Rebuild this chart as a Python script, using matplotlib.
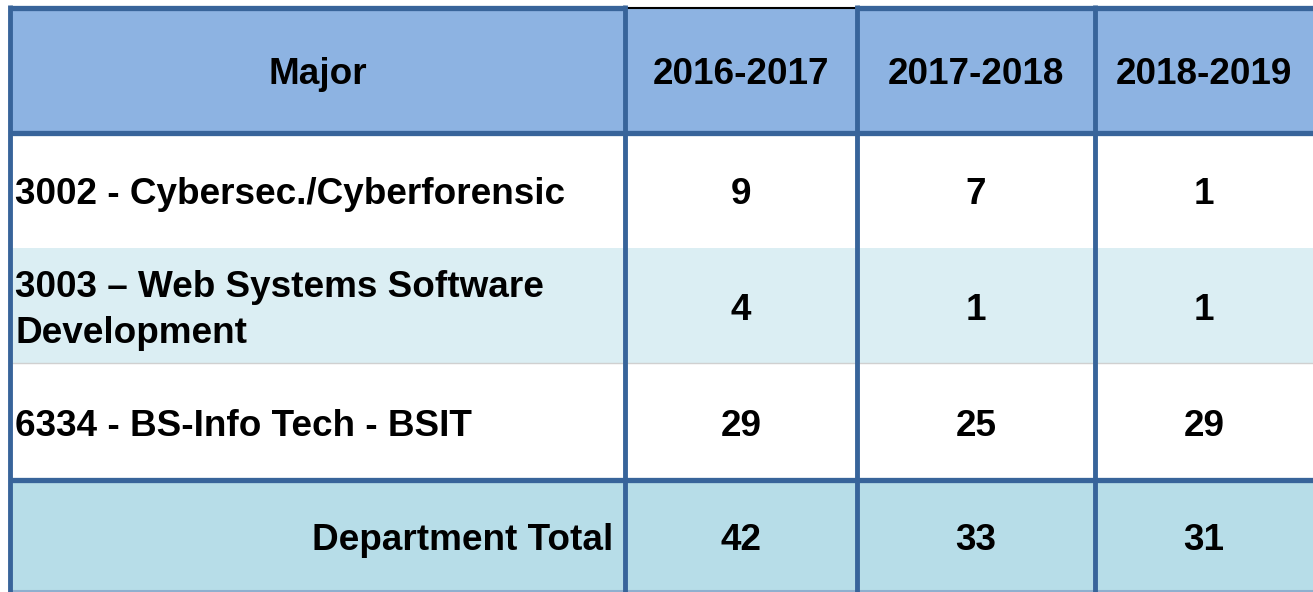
import matplotlib.pyplot as plt
from matplotlib.patches import Rectangle

# table content
header = ['Major', '2016-2017', '2017-2018', '2018-2019']
majors = ['3002 - Cybersec./Cyberforensic',
          '3003 \u2013 Web Systems Software\nDevelopment',
          '6334 - BS-Info Tech - BSIT']
y2016 = [9, 4, 29]
y2017 = [7, 1, 25]
y2018 = [1, 1, 29]
total_label = 'Department Total'
totals = [sum(y2016), sum(y2017), sum(y2018)]

# layout in pixels
W, H = 1313, 592
col_edges = [10, 625, 857, 1095, 1313]
row_edges = [8, 133, 248, 363, 480, 592]
row_fills = ['#8DB3E2', 'white', '#DBEEF3', 'white', '#B7DDE8']
border = '#38649A'
font = dict(family='Liberation Sans', fontweight='bold', fontsize=26.6, color='black')

fig = plt.figure(figsize=(W / 100, H / 100), dpi=100)
ax = fig.add_axes([0, 0, 1, 1])
ax.set_xlim(0, W)
ax.set_ylim(H, 0)
ax.axis('off')

for i, fc in enumerate(row_fills):
    ax.add_patch(Rectangle((col_edges[0], row_edges[i]), col_edges[-1] - col_edges[0],
                           row_edges[i + 1] - row_edges[i], facecolor=fc, edgecolor='none'))

# thin grey separator between body rows
ax.hlines([row_edges[3]], col_edges[0], W, colors='#D0D0D0', linewidth=1)
# bottom edge
ax.hlines([H - 1], col_edges[0], W, colors='#8FB0CF', linewidth=1.5)

# top edge: blue except thin black above first year column
ax.hlines(row_edges[0], col_edges[0], col_edges[1], colors=border, linewidth=3.8)
ax.hlines(row_edges[0], col_edges[2], W, colors=border, linewidth=3.8)
ax.hlines(row_edges[0], col_edges[1], col_edges[2], colors='black', linewidth=1.5)
# thick separators
ax.hlines([row_edges[1], row_edges[4]], col_edges[0], W, colors=border, linewidth=3.8)
ax.vlines(col_edges[:4], row_edges[0] - 3, H, colors=border, linewidth=3.5)

def cy(i):
    return (row_edges[i] + row_edges[i + 1]) / 2

def cx(j):
    return (col_edges[j] + col_edges[j + 1]) / 2

# baseline sits a bit below the row middle
off = 14

for j, h in enumerate(header):
    ax.text(cx(j), cy(0) + off, h, ha='center', va='baseline', **font)

for r, m in enumerate(majors):
    if '\n' in m:
        ax.text(col_edges[0] + 5, cy(r + 1) + 5, m, ha='left', va='center',
                linespacing=1.4, **font)
    else:
        ax.text(col_edges[0] + 5, cy(r + 1) + off, m, ha='left', va='baseline', **font)
    for j, vals in enumerate([y2016, y2017, y2018]):
        ax.text(cx(j + 1), cy(r + 1) + off, str(vals[r]), ha='center', va='baseline', **font)

ax.text(col_edges[1] - 12, cy(4) + off, total_label, ha='right', va='baseline', **font)
for j, t in enumerate(totals):
    ax.text(cx(j + 1), cy(4) + off, str(t), ha='center', va='baseline', **font)

fig.savefig('out.png', dpi=100)
